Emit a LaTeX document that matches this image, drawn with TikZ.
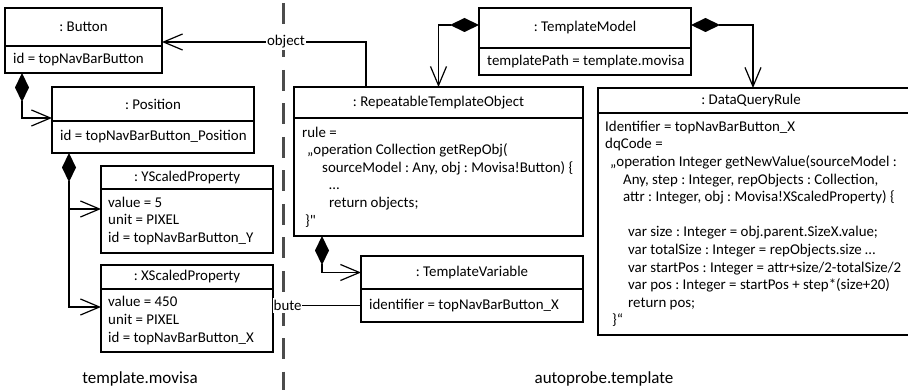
\documentclass[tikz,border=0pt]{standalone}
\usepackage{fontspec}
\setmainfont{Carlito}
\usetikzlibrary{arrows.meta,calc}
\pgfdeclarelayer{bg}
\pgfsetlayers{bg,main}
\frenchspacing

\newcommand\objfont{\fontsize{14.9}{17.6}\selectfont}
\newcommand\capfont{\fontsize{17}{20}\selectfont}

% object box: name, x, y, width, title height, body height, text indent, title, body
\newcommand\umlobj[9]{%
  \node[objtitle, minimum width=#4pt, minimum height=#5pt] (#1-t) at (#2,#3) {#8};
  \node[objbody, minimum width=#4pt, minimum height=#6pt] (#1-b) at (#1-t.south) {};
  \node[objtext] (#1-x) at ($(#1-b.west)+(#7,0)$) {#9};
}

\tikzset{
  objtitle/.style={draw, fill=white, line width=1.2pt, anchor=north west,
    inner sep=0pt, outer sep=0pt, font=\objfont},
  objbody/.style={draw, fill=white, line width=1.2pt, anchor=north,
    inner sep=0pt, outer sep=0pt},
  objtext/.style={anchor=west, inner sep=0pt, align=left, font=\objfont},
  conn/.style={line width=1.2pt},
  comp/.style={conn, {Diamond[length=29pt,width=14pt]}-{Straight Barb[length=19pt,width=16pt]}},
  nav/.style={conn, -{Straight Barb[length=19pt,width=16pt]}},
  lbl/.style={fill=white, inner xsep=1pt, inner ysep=2pt, font=\objfont},
  captxt/.style={font=\capfont},
  divider/.style={draw=black!70, line width=2.5pt, dash pattern=on 21pt off 12.5pt},
}

\begin{document}
\begin{tikzpicture}[x=1pt,y=-1pt]
\useasboundingbox (0,0) rectangle (908,390);
\clip (0,0) rectangle (908,390);

% --- template.movisa side ---
\umlobj{btn}{5}{8}{157}{38}{27}{8}{: Button}{id = topNavBarButton}
\umlobj{pos}{52}{87}{202}{34}{32}{8}{: Position}{id = topNavBarButton\_Position}
\umlobj{ys}{101}{166}{172}{23}{64}{7}{: YScaledProperty}{value = 5\\unit = PIXEL\\id = topNavBarButton\_Y}
\umlobj{xs}{101}{265}{172}{24}{63}{7}{: XScaledProperty}{value = 450\\unit = PIXEL\\id = topNavBarButton\_X}

% --- autoprobe.template side ---
\umlobj{tm}{479}{8}{212}{40}{27}{8}{: TemplateModel}{templatePath = template.movisa}
\umlobj{rto}{294}{87}{289}{31}{118}{8}{: RepeatableTemplateObject}{%
rule =\\
\hspace*{5pt}„operation Collection getRepObj(\\
\hspace*{20pt}sourceModel : Any, obj : Movisa!Button) \{\\
\hspace*{27pt}…\\
\hspace*{27pt}return objects;\\
\hspace*{3pt}\}\textquotedbl}
\umlobj{tv}{361}{256}{222}{33}{33}{8}{: TemplateVariable}{identifier = topNavBarButton\_X}
\umlobj{dqr}{598}{88}{320}{25}{222}{7}{\hspace*{-14pt}: DataQueryRule}{%
Identifier = topNavBarButton\_X\\
dqCode =\\
\hspace*{5pt}„operation Integer getNewValue(sourceModel :\\
\hspace*{18pt}Any, step : Integer, repObjects : Collection,\\
\hspace*{18pt}attr : Integer, obj : Movisa!XScaledProperty) \{\\
\mbox{}\\
\hspace*{23pt}var size : Integer = obj.parent.SizeX.value;\\
\hspace*{23pt}var totalSize : Integer = repObjects.size …\\
\hspace*{23pt}var startPos : Integer = attr+size/2-totalSize/2\\
\hspace*{23pt}var pos : Integer = startPos + step*(size+20)\\
\hspace*{23pt}return pos;\\
\hspace*{7pt}\}“}

% labels on connectors
\node[lbl] (olab) at (286,42) {object};
\node[lbl, anchor=west, inner xsep=0.5pt] (alab) at (xs-b.east |- tv-b.west) {bute};

% captions
\node[captxt] (capl) at (140,379) {template.movisa};
\node[captxt] (capr) at (604,379) {autoprobe.template};

\begin{pgfonlayer}{bg}
  % separator between the two models
  \coordinate (sepTop) at (283.5,3);
  \coordinate (sepBot) at (283.5,392);
  \draw[divider] (sepTop) -- (sepBot);

  % compositions
  \draw[comp] ($(btn-b.south west)+(17,0)$) |- ($(pos-b.north west)+(0,-3)$);
  \coordinate (posfork) at ($(pos-b.south west)+(17,29)$);
  \draw[comp] ($(pos-b.south west)+(17,0)$) |- ($(ys-b.north west)+(0,20)$);
  \draw[nav] (posfork) |- ($(xs-b.north west)+(0,18)$);
  \draw[comp] ($(tm-t.north west)+(0,17)$) -| (rto-t.north);
  \draw[comp] ($(tm-t.north east)+(0,17)$) -| ($(dqr-t.north west)+(155,0)$);
  \draw[comp] ($(rto-b.south west)+(28,0)$) |- (tv-t.west);

  % references
  \draw[nav] ($(rto-t.north west)+(72,0)$) |- ($(btn-t.south east)+(0,-4)$);
  \draw[conn] (tv-b.west) -- (alab.east);
\end{pgfonlayer}
\end{tikzpicture}
\end{document}
